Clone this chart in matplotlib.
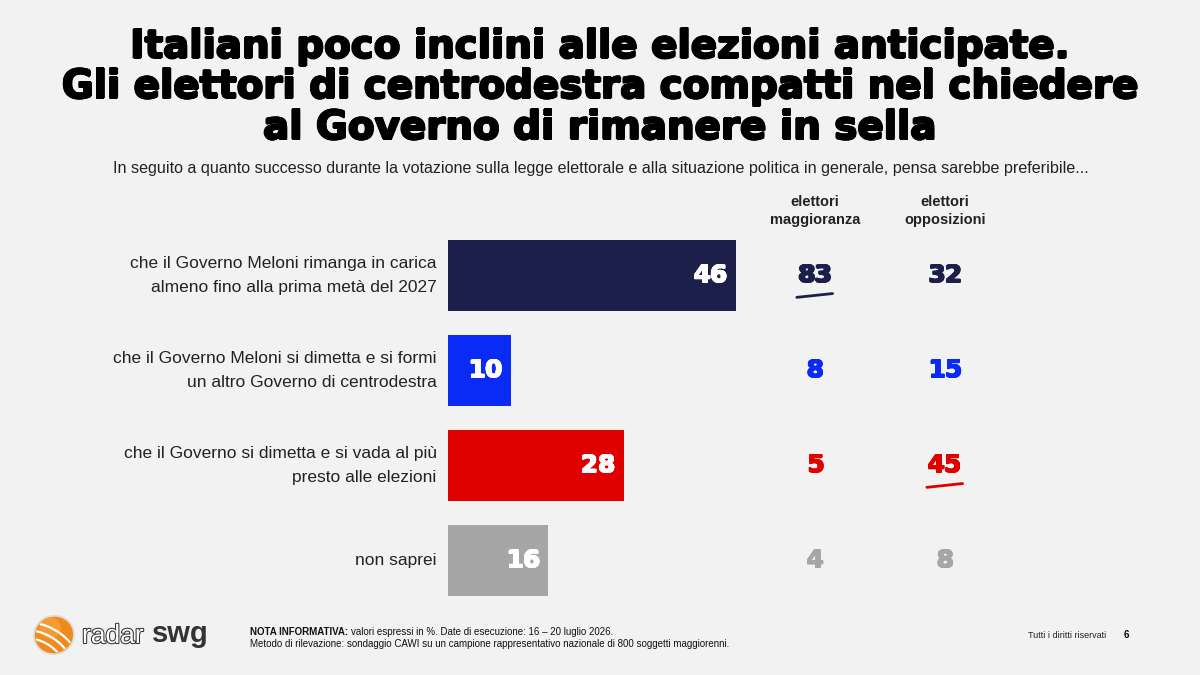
import matplotlib.pyplot as plt
import matplotlib.patheffects as pe
import matplotlib.transforms as mtransforms
from matplotlib.patches import Circle, Ellipse
import numpy as np

# ---------------------------------------------------------------------------
# Data
# ---------------------------------------------------------------------------
categories = [
    "che il Governo Meloni rimanga in carica\nalmeno fino alla prima metà del 2027",
    "che il Governo Meloni si dimetta e si formi\nun altro Governo di centrodestra",
    "che il Governo si dimetta e si vada al più\npresto alle elezioni",
    "non saprei",
]
totale       = [46, 10, 28, 16]
maggioranza  = [83, 8, 5, 4]
opposizioni  = [32, 15, 45, 8]
underline_maggioranza = [True, False, False, False]
underline_opposizioni = [False, False, True, False]

COLORS = ["#1C1F4A", "#0A2BF5", "#E00000", "#A6A6A6"]
BG = "#F2F2F2"

TITLE = ("Italiani poco inclini alle elezioni anticipate.\n"
         "Gli elettori di centrodestra compatti nel chiedere\n"
         "al Governo di rimanere in sella")
SUBTITLE = ("In seguito a quanto successo durante la votazione sulla legge elettorale "
            "e alla situazione politica in generale, pensa sarebbe preferibile...")


def heavy_text(target, x, y, s, radius=0.6, transform=None, **kw):
    # fake an "Arial Black" weight: stack a few slightly shifted copies
    base = transform if transform is not None else target.transData
    for a in np.linspace(0, 2 * np.pi, 8, endpoint=False):
        tr = mtransforms.offset_copy(base, fig=fig, x=radius * np.cos(a),
                                     y=radius * np.sin(a), units="points")
        target.text(x, y, s, transform=tr, **kw)
    target.text(x, y, s, transform=base, **kw)


# ---------------------------------------------------------------------------
# Figure
# ---------------------------------------------------------------------------
plt.rcParams["font.family"] = ["Liberation Sans", "DejaVu Sans"]
fig = plt.figure(figsize=(12, 6.75), dpi=100, facecolor=BG)

W, H = 1200, 675
def fx(px): return px / W
def fy(py): return 1 - py / H

heavy_text(fig, 0.5, fy(87), TITLE, radius=0.65, transform=fig.transFigure,
           ha="center", va="center", fontsize=28, fontweight="bold",
           family="DejaVu Sans", linespacing=1.08, color="black")
fig.text(fx(601), fy(168), SUBTITLE, ha="center", va="center", fontsize=11.65,
         color="#222222")

# bars
PX_PER_UNIT = 6.27
ax = fig.add_axes([fx(448), fy(608), fx(752), (608 - 228) / H])
ax.set_facecolor("none")
ax.set_xlim(0, 752 / PX_PER_UNIT)
ax.set_ylim(3.5, -0.5)
y = np.arange(len(categories))
ax.barh(y, totale, height=0.75, color=COLORS)
for yi, v in zip(y, totale):
    heavy_text(ax, v - 1.3, yi, str(v), radius=0.45, ha="right", va="center",
               color="white", fontsize=18, fontweight="bold", family="DejaVu Sans")
    ax.text(-1.8, yi, categories[yi], ha="right", va="center", fontsize=12.5,
            color="#222222", linespacing=1.7)
ax.axis("off")

# side columns
col_x = [(815 - 448) / PX_PER_UNIT, (945 - 448) / PX_PER_UNIT]
heads = ["elettori\nmaggioranza", "elettori\nopposizioni"]
for cx, head in zip(col_x, heads):
    ax.text(cx, -0.68, head, ha="center", va="center", fontsize=10.5,
            fontweight="bold", color="#222222", linespacing=1.4)

for cx, vals, marks in [(col_x[0], maggioranza, underline_maggioranza),
                        (col_x[1], opposizioni, underline_opposizioni)]:
    for yi, v in enumerate(vals):
        heavy_text(ax, cx, yi, str(v), radius=0.45, ha="center", va="center",
                   fontsize=18, fontweight="bold", family="DejaVu Sans",
                   color=COLORS[yi])
        if marks[yi]:
            ax.plot([cx - 2.9, cx + 2.8], [yi + 0.23, yi + 0.19], color=COLORS[yi],
                    lw=2, solid_capstyle="round")

# ---------------------------------------------------------------------------
# Footer
# ---------------------------------------------------------------------------
lax = fig.add_axes([0, 0, 1, 1], facecolor="none")
lax.set_xlim(0, W)
lax.set_ylim(H, 0)
lax.axis("off")
lax.add_patch(Ellipse((54, 635), 40, 38, angle=-20, facecolor="none",
                      edgecolor="#DDDDDD", lw=1.5, zorder=1))
ball = Ellipse((54, 635), 37, 35, angle=-20, color="#F08A1C", zorder=2)
lax.add_patch(ball)
lax.add_patch(Circle((50, 628), 10, color="#F7A640", zorder=2, alpha=0.6))
t = np.linspace(0, 2 * np.pi, 300)
for r in [44, 52, 60]:
    ln, = lax.plot(25 + r * np.cos(t), 682 + r * np.sin(t), color="white",
                   lw=1.6, zorder=3)
    ln.set_clip_path(ball)
lax.text(82, 636, "radar", ha="left", va="center", fontsize=19, color="white",
         path_effects=[pe.withStroke(linewidth=1.5, foreground="#333333")])
lax.text(152, 634, "swg", ha="left", va="center", fontsize=21, fontweight="bold",
         color="#333333")

bold_note = fig.text(fx(250), fy(632), "NOTA INFORMATIVA:", fontsize=7,
                     fontweight="bold", va="center", color="#111111")
fig.canvas.draw()
bb = bold_note.get_window_extent()
fig.text(bb.x1 / W + fx(3), fy(632), "valori espressi in %. "
         "Date di esecuzione: 16 – 20 luglio 2026.", fontsize=7, va="center",
         color="#111111")
fig.text(fx(250), fy(644), "Metodo di rilevazione: sondaggio CAWI su un campione "
         "rappresentativo nazionale di 800 soggetti maggiorenni.", fontsize=7,
         va="center", color="#111111")
fig.text(fx(1028), fy(635), "Tutti i diritti riservati", fontsize=6.5,
         va="center", color="#222222")
fig.text(fx(1124), fy(635), "6", fontsize=7, fontweight="bold", va="center")

fig.savefig("out.png", dpi=100, facecolor=BG)
